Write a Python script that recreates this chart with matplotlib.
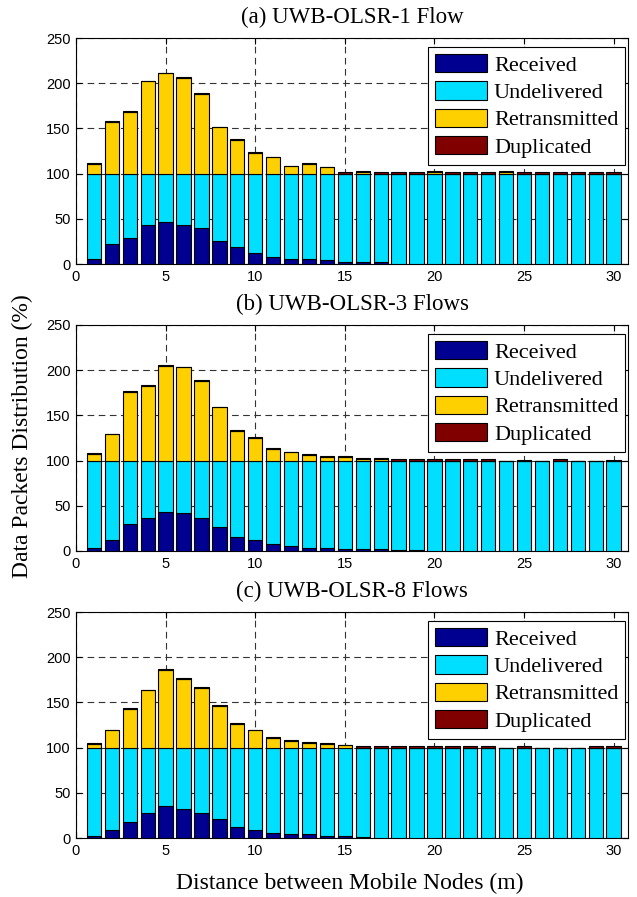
import matplotlib
matplotlib.use("Agg")
import numpy as np
import matplotlib.pyplot as plt

# distance between mobile nodes (m)
distance = np.arange(1, 31)

# (a) UWB-OLSR-1 Flow
received_a = [6, 22, 29, 43, 46, 43, 40, 25, 19, 12, 8, 5, 5, 4, 2, 2, 2,
              0.5, 0.5, 0.5, 0.5, 0.5, 0.5, 0.5, 0.5, 0.5, 0.5, 0.5, 0.5, 0.5]
undelivered_a = [94, 78, 71, 57, 54, 57, 60, 75, 81, 88, 92, 95, 95, 96, 98, 98, 98,
                 99.5, 99.5, 99.5, 99.5, 99.5, 99.5, 99.5, 99.5, 99.5, 99.5, 99.5, 99.5, 99.5]
retrans_a = [11, 57, 68, 102, 111, 106, 88, 51, 37, 23, 18, 8, 11, 7, 0, 2, 0,
             0, 0, 2, 0, 0, 0, 2, 0, 0, 0, 0, 0, 0]
dup_a = [0.8, 0.8, 0.8, 0.8, 0.8, 0.8, 0.8, 0.8, 0.8, 0.8, 0.8, 0.8, 0.8, 0.8, 1.5, 0.8, 1.5,
         1.5, 1.5, 0.8, 1.5, 1.5, 1.5, 0.8, 1.5, 1.5, 1.5, 1.5, 1.5, 1.5]

# (b) UWB-OLSR-3 Flows
received_b = [3.3, 12, 30, 36, 43, 42, 36, 26, 16, 12, 8, 5, 3.3, 3.3, 2.2, 2.2, 2.2,
              0.7, 0.7, 0.5, 0.5, 0.5, 0.5, 0.5, 0.5, 0.5, 0.5, 0.5, 0.5, 0.5]
undelivered_b = [96.7, 88, 70, 64, 57, 58, 64, 74, 84, 88, 92, 95, 96.7, 96.7, 97.8, 97.8, 97.8,
                 99.3, 99.3, 99.5, 99.5, 99.5, 99.5, 99.5, 99.5, 99.5, 99.5, 99.5, 99.5, 99.5]
retrans_b = [7.7, 29, 76, 83, 105, 103, 88, 59, 33, 25, 13, 9, 6.7, 4.2, 4.2, 2.3, 2.3,
             0, 0, 0, 0, 0, 0, 0, 0, 0, 0, 0, 0, 0]
dup_b = [0.8, 0.8, 0.8, 0.8, 0.8, 0.8, 0.8, 0.8, 0.8, 0.8, 0.8, 0.8, 0.8, 0.8, 0.8, 0.8, 0.8,
         1.5, 1.5, 1.3, 1.5, 1.5, 1.5, 0, 1, 0, 1.5, 0, 0, 1]

# (c) UWB-OLSR-8 Flows
received_c = [2, 9, 18, 28, 35, 32, 28, 21, 12, 9, 6, 4, 4, 2.6, 2.6, 1, 0.5,
              0.5, 0.5, 0.5, 0.5, 0.5, 0.5, 0.5, 0.5, 0.5, 0.5, 0.5, 0.5, 0.5]
undelivered_c = [98, 91, 82, 72, 65, 68, 72, 79, 88, 91, 94, 96, 96, 97.4, 97.4, 99, 99.5,
                 99.5, 99.5, 99.5, 99.5, 99.5, 99.5, 99.5, 99.5, 99.5, 99.5, 99.5, 99.5, 99.5]
retrans_c = [4.2, 19.2, 43.2, 63.2, 86.2, 76.2, 66.2, 46.2, 26.2, 19.2, 10.7, 7.7, 5.2, 4.0, 2.5, 0, 0,
             0, 0, 0, 0, 0, 0, 0, 0, 0, 0, 0, 0, 0]
dup_c = [0.8, 0.8, 0.8, 0.8, 0.8, 0.8, 0.8, 0.8, 0.8, 0.8, 0.8, 0.8, 0.8, 0.8, 0.8, 1.5, 1.5,
         1.5, 1.5, 1.5, 1.5, 1.5, 1.5, 0, 1.5, 0, 0, 0, 1.5, 1.5]

titles = ["(a) UWB-OLSR-1 Flow", "(b) UWB-OLSR-3 Flows", "(c) UWB-OLSR-8 Flows"]
series_names = ["Received", "Undelivered", "Retransmitted", "Duplicated"]
colors = ["#000090", "#00DFFF", "#FFD000", "#800000"]

panels = [
    (received_a, undelivered_a, retrans_a, dup_a),
    (received_b, undelivered_b, retrans_b, dup_b),
    (received_c, undelivered_c, retrans_c, dup_c),
]

serif = ["Liberation Serif", "DejaVu Serif"]
sans = ["Liberation Sans", "DejaVu Sans"]

fig = plt.figure(figsize=(6.37, 8.97), dpi=100)

left, width, height = 76 / 637, 552 / 637, 226 / 897
bottoms = [1 - 264 / 897, 1 - 551 / 897, 1 - 838 / 897]

for i, (title, data) in enumerate(zip(titles, panels)):
    ax = fig.add_axes([left, bottoms[i], width, height])
    base = np.zeros(len(distance))
    for vals, name, col in zip(data, series_names, colors):
        ax.bar(distance, vals, width=0.8, bottom=base, color=col,
               edgecolor="black", linewidth=0.8, label=name, zorder=3)
        base = base + np.array(vals)

    ax.set_xlim(0, 30.8)
    ax.set_ylim(0, 250)
    ax.set_xticks(range(0, 31, 5))
    ax.set_yticks(range(0, 251, 50))
    ax.tick_params(direction="in", top=True, right=True, length=4, width=0.8,
                   labelsize=10.5, pad=4)
    for lab in ax.get_xticklabels() + ax.get_yticklabels():
        lab.set_family(sans)
    ax.grid(True, color="0.2", linestyle=(0, (6, 4)), linewidth=0.8, zorder=0)
    ax.set_axisbelow(True)
    for sp in ax.spines.values():
        sp.set_linewidth(0.8)

    ax.set_title(title, family=serif, fontsize=16.5, pad=11)

    leg = ax.legend(loc="upper right", bbox_to_anchor=(0.9946, 0.960),
                    borderaxespad=0, fancybox=False, framealpha=1,
                    edgecolor="black", prop={"family": serif, "size": 16},
                    handlelength=2.36, handleheight=0.9, handletextpad=0.3,
                    labelspacing=0.25, borderpad=0.3)
    leg.get_frame().set_linewidth(0.8)

fig.text(0.0345, 0.514, "Data Packets Distribution (%)", rotation=90,
         ha="center", va="center", family=serif, fontsize=17)
fig.text(0.549, 0.0156, "Distance between Mobile Nodes (m)",
         ha="center", va="center", family=serif, fontsize=17)

fig.savefig("out.png", dpi=100)
